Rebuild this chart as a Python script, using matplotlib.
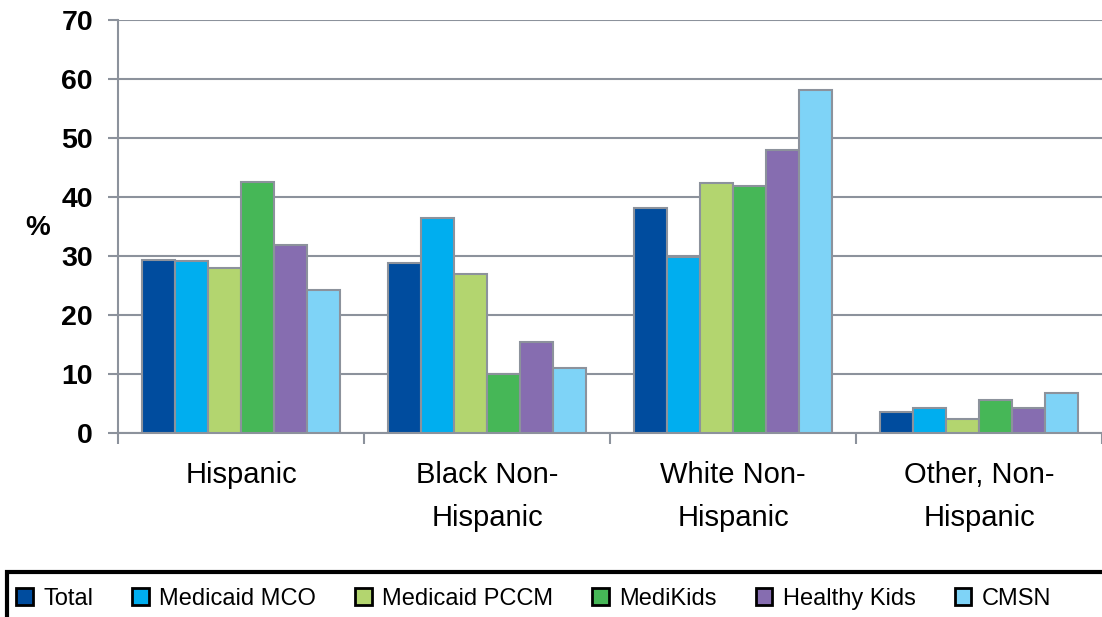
import numpy as np
import matplotlib
matplotlib.use("Agg")
import matplotlib.pyplot as plt
from matplotlib.patches import Patch, Rectangle

plt.rcParams['font.family'] = ['Liberation Sans', 'DejaVu Sans']

categories = ["Hispanic", "Black Non-\nHispanic", "White Non-\nHispanic", "Other, Non-\nHispanic"]
series_names = ["Total", "Medicaid MCO", "Medicaid PCCM", "MediKids", "Healthy Kids", "CMSN"]
total = [29.4, 28.8, 38.1, 3.6]
medicaid_mco = [29.2, 36.5, 29.8, 4.3]
medicaid_pccm = [28.0, 27.0, 42.4, 2.3]
medikids = [42.5, 10.0, 41.8, 5.6]
healthy_kids = [31.8, 15.5, 48.0, 4.2]
cmsn = [24.2, 11.0, 58.1, 6.8]
yticks = [0, 10, 20, 30, 40, 50, 60, 70]

colors = ["#004C9E", "#00AEEF", "#B3D56F", "#46B757", "#866DB0", "#7ED3F7"]
gray = "#8C929C"

values = [total, medicaid_mco, medicaid_pccm, medikids, healthy_kids, cmsn]

W, H = 1102, 617
fig = plt.figure(figsize=(W / 100, H / 100), dpi=100)
ax = fig.add_axes([118 / W, 1 - 433 / H, 1 - 118 / W, (433 - 20) / H])

x = np.arange(len(categories))
w = 0.134
n = len(values)
for i, (vals, c) in enumerate(zip(values, colors)):
    ax.bar(x + (i - (n - 1) / 2) * w, vals, width=w, color=c,
           edgecolor=gray, linewidth=1.5, zorder=3)

ax.set_xlim(-0.5, len(categories) - 0.5)
ax.set_ylim(0, 70)
ax.set_yticks(yticks)
ax.set_yticklabels([str(t) for t in yticks], fontsize=20.5, fontweight="bold")
ax.yaxis.grid(True, color=gray, linewidth=1.5, zorder=0)

ax.set_xticks(x)
ax.set_xticklabels(categories, fontsize=21, linespacing=1.7)
ax.set_xticks(np.arange(-0.5, len(categories)), minor=True)
ax.tick_params(axis="x", which="major", length=0, pad=20)
ax.tick_params(axis="x", which="minor", length=8, width=1.5, color=gray)
ax.tick_params(axis="y", length=7, width=1.5, color=gray, pad=11)

for s in ["top", "right"]:
    ax.spines[s].set_visible(False)
for s in ["left", "bottom"]:
    ax.spines[s].set_color(gray)
    ax.spines[s].set_linewidth(1.5)

fig.text(38 / W, 1 - 228 / H, "%", fontsize=20, fontweight="bold",
         ha="center", va="center")

# legend box (runs off the right and bottom edges like the original)
fig.add_artist(Rectangle((7 / W, -0.05), 1.05, 0.05 + 1 - 572 / H,
                         transform=fig.transFigure, facecolor="none",
                         edgecolor="black", linewidth=3, clip_on=False))
handles = [Patch(facecolor=c, edgecolor="black", linewidth=2) for c in colors]
leg = fig.legend(handles, series_names, loc="center left", ncol=6,
                 bbox_to_anchor=(16 / W, 1 - 599 / H), frameon=False,
                 fontsize=17, handlelength=0.7, handleheight=0.7,
                 handletextpad=0.45, columnspacing=1.65, borderpad=0,
                 borderaxespad=0)

fig.savefig("out.png", dpi=100)
